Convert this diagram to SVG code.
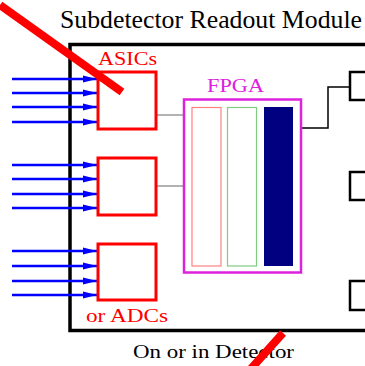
<svg xmlns="http://www.w3.org/2000/svg" width="365" height="366" viewBox="0 0 365 366">
<defs>
<style>
text{font-family:'Liberation Serif','Times New Roman',Times,serif}
.asic{fill:#fff;stroke:#ff0000;stroke-width:3}
.out{fill:#fff;stroke:#000;stroke-width:2.5}
.in{stroke:#0000ff;stroke-width:2.5;fill:none}
.gray{stroke:#999;stroke-width:1.3;fill:none}
.slash{stroke:#ff0000;stroke-width:8;stroke-linecap:butt}
</style>
<marker id="ah" markerWidth="14" markerHeight="8" refX="14" refY="4" orient="auto" markerUnits="userSpaceOnUse">
<path d="M0,0.5 L14,4 L0,7.5 Z" fill="#0000ff"/>
</marker>
</defs>
<rect width="365" height="366" fill="#fff"/>
<text x="60" y="28" font-family="Liberation Serif, serif" font-size="25" textLength="302" lengthAdjust="spacingAndGlyphs" fill="#000">Subdetector Readout Module</text>
<g id="module">
<rect x="70" y="44.5" width="310" height="286" fill="none" stroke="#000" stroke-width="3.5"/>
</g>
<g id="connectors">
<line class="in" x1="12" y1="79" x2="97" y2="79" stroke-width="1.2" marker-end="url(#ah)"/>
<line class="in" x1="12" y1="93" x2="97" y2="93" marker-end="url(#ah)"/>
<line class="in" x1="12" y1="107" x2="97" y2="107" marker-end="url(#ah)"/>
<line class="in" x1="12" y1="122" x2="97" y2="122" marker-end="url(#ah)"/>
<line class="in" x1="12" y1="165" x2="97" y2="165" marker-end="url(#ah)"/>
<line class="in" x1="12" y1="179" x2="97" y2="179" marker-end="url(#ah)"/>
<line class="in" x1="12" y1="194" x2="97" y2="194" marker-end="url(#ah)"/>
<line class="in" x1="12" y1="208" x2="97" y2="208" marker-end="url(#ah)"/>
<line class="in" x1="12" y1="251" x2="97" y2="251" marker-end="url(#ah)"/>
<line class="in" x1="12" y1="266" x2="97" y2="266" marker-end="url(#ah)"/>
<line class="in" x1="12" y1="281" x2="97" y2="281" marker-end="url(#ah)"/>
<line class="in" x1="12" y1="295" x2="97" y2="295" marker-end="url(#ah)"/>
<line class="gray" x1="156" y1="115" x2="192" y2="115"/>
<line class="gray" x1="156" y1="186" x2="192" y2="186"/>
<polyline points="293,128 328,128 328,87 350,87" fill="none" stroke="#000" stroke-width="1.5"/>
</g>
<g id="asic1"><rect class="asic" x="98" y="72" width="58" height="57"/></g>
<g id="asic2"><rect class="asic" x="98" y="158" width="58" height="57"/></g>
<g id="asic3"><rect class="asic" x="98" y="244" width="58" height="56"/></g>
<text x="98" y="65" font-family="Liberation Serif, serif" font-size="19" textLength="59" lengthAdjust="spacingAndGlyphs" fill="#ff0000">ASICs</text>
<text x="86" y="322" font-family="Liberation Serif, serif" font-size="19" textLength="82" lengthAdjust="spacingAndGlyphs" fill="#ff0000">or ADCs</text>
<g id="fpga">
<rect x="184" y="99.5" width="117" height="173" fill="#fff" stroke="#dd22dd" stroke-width="2.5"/>
<rect x="192" y="107.5" width="29" height="158.5" fill="none" stroke="#ff8080" stroke-width="1.2"/>
<rect x="227.5" y="107.5" width="29" height="158.5" fill="none" stroke="#80cc80" stroke-width="1.2"/>
<rect x="264" y="107" width="29" height="159" fill="#000080"/>
<text x="207" y="92" font-family="Liberation Serif, serif" font-size="18" textLength="57" lengthAdjust="spacingAndGlyphs" fill="#dd22dd">FPGA</text>
</g>
<g id="out1"><rect class="out" x="350" y="72" width="30" height="28"/></g>
<g id="out2"><rect class="out" x="350" y="172" width="30" height="28"/></g>
<g id="out3"><rect class="out" x="350" y="281" width="30" height="29"/></g>
<text x="133" y="358" font-family="Liberation Serif, serif" font-size="19" textLength="161" lengthAdjust="spacingAndGlyphs" fill="#000">On or in Detector</text>
<line class="slash" x1="0" y1="5" x2="122" y2="92"/>
<line class="slash" x1="283" y1="333" x2="248" y2="372"/>
</svg>
